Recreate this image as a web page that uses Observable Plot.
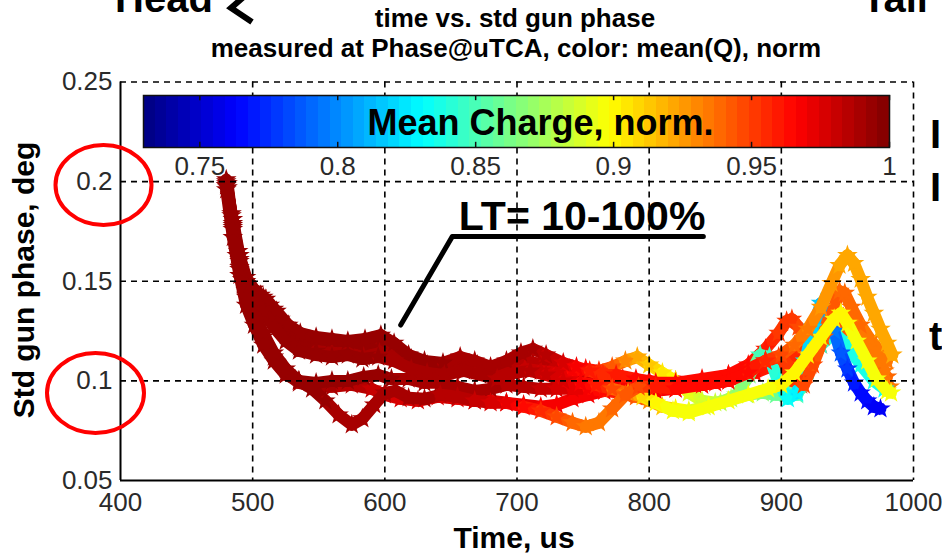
<!DOCTYPE html>
<html>
<head>
<meta charset="utf-8">
<script src="https://cdn.jsdelivr.net/npm/d3@7"></script>
<script src="https://cdn.jsdelivr.net/npm/@observablehq/plot@0.6"></script>
<style>
  body { margin: 0; background: #fff; }
  #chart { position: relative; width: 942px; height: 555px; overflow: hidden;
           font-family: "Liberation Sans", Arial, Helvetica, sans-serif; }
  #chart > svg { position: absolute; }
</style>
</head>
<body>
<div id="chart"></div>
<script>
// Axis ticks and labels
const xTicks = [400, 500, 600, 700, 800, 900, 1000];
const yTicks = [0.05, 0.1, 0.15, 0.2, 0.25];
const chargeTicks = [0.75, 0.8, 0.85, 0.9, 0.95, 1];
const chargeRange = [0.7296, 1];

// Each shot: [time (us), std gun phase (deg), normalized mean charge]
const shotH = [[480,0.200,0.995],[484,0.184,0.995],[489,0.165,0.995],[494,0.152,0.995],[500,0.146,0.995],[506,0.143,0.995],[513,0.138,0.995],[521,0.131,0.995],[530,0.124,0.995],[540,0.119,0.995],[552,0.117,0.995],[565,0.116,0.995],[578,0.117,0.995],[590,0.118,0.995],[600,0.117,0.995],[612,0.113,0.995],[625,0.108,0.994],[638,0.106,0.994],[650,0.106,0.993],[662,0.108,0.993],[675,0.105,0.992],[688,0.104,0.991],[700,0.107,0.99],[712,0.109,0.989],[725,0.107,0.987],[740,0.104,0.985],[760,0.101,0.982],[780,0.099,0.978],[800,0.099,0.975],[820,0.100,0.972],[840,0.098,0.968],[860,0.100,0.966],[880,0.104,0.962],[895,0.108,0.958],[910,0.112,0.955],[925,0.118,0.95],[940,0.124,0.945],[955,0.118,0.942],[970,0.108,0.94],[980,0.102,0.94]];
const shotF = [[480,0.199,0.994],[485,0.181,0.994],[490,0.163,0.994],[495,0.152,0.994],[501,0.146,0.994],[508,0.142,0.994],[516,0.136,0.993],[525,0.128,0.993],[535,0.122,0.993],[548,0.119,0.993],[560,0.118,0.992],[572,0.118,0.992],[585,0.119,0.992],[597,0.120,0.992],[608,0.116,0.991],[620,0.111,0.991],[632,0.108,0.99],[645,0.107,0.99],[658,0.110,0.99],[670,0.108,0.989],[682,0.105,0.988],[694,0.107,0.987],[706,0.110,0.986],[720,0.108,0.984],[740,0.106,0.98],[760,0.103,0.975],[780,0.101,0.972],[800,0.100,0.969],[820,0.098,0.967],[840,0.100,0.966],[860,0.103,0.965],[875,0.108,0.962],[888,0.116,0.958],[898,0.124,0.953],[904,0.130,0.95],[908,0.131,0.95],[913,0.127,0.949],[918,0.121,0.948],[925,0.124,0.946],[933,0.130,0.944],[940,0.133,0.942],[947,0.132,0.94],[955,0.125,0.938],[963,0.117,0.936],[971,0.110,0.935],[978,0.105,0.935]];
const shotG = [[481,0.197,0.993],[485,0.177,0.993],[490,0.157,0.993],[495,0.143,0.993],[501,0.132,0.992],[508,0.122,0.992],[516,0.112,0.992],[525,0.104,0.991],[535,0.099,0.991],[548,0.097,0.99],[560,0.097,0.988],[575,0.098,0.985],[590,0.096,0.982],[600,0.093,0.979],[612,0.091,0.978],[625,0.090,0.977],[640,0.092,0.976],[655,0.091,0.975],[668,0.090,0.974],[680,0.090,0.973],[692,0.089,0.972],[705,0.088,0.971],[718,0.087,0.97],[730,0.088,0.97],[742,0.091,0.969],[754,0.093,0.969],[766,0.095,0.968],[778,0.097,0.968],[790,0.096,0.967],[805,0.095,0.967],[820,0.096,0.966],[835,0.098,0.966],[850,0.099,0.965],[865,0.102,0.964],[880,0.106,0.962],[892,0.110,0.958],[900,0.107,0.955],[908,0.100,0.952],[915,0.098,0.95],[922,0.108,0.948],[930,0.118,0.946],[938,0.128,0.944],[945,0.127,0.942],[952,0.120,0.94],[960,0.112,0.938],[968,0.105,0.937],[976,0.100,0.936],[982,0.097,0.935]];
const shotC = [[480,0.198,0.993],[485,0.179,0.993],[490,0.161,0.993],[495,0.150,0.993],[501,0.143,0.993],[508,0.138,0.993],[516,0.131,0.992],[525,0.123,0.992],[535,0.117,0.992],[548,0.115,0.992],[560,0.114,0.991],[572,0.114,0.991],[584,0.112,0.991],[596,0.114,0.99],[608,0.111,0.99],[620,0.107,0.99],[632,0.105,0.989],[645,0.104,0.989],[658,0.106,0.988],[670,0.105,0.987],[682,0.102,0.986],[694,0.104,0.985],[706,0.106,0.983],[718,0.105,0.98],[730,0.104,0.976],[742,0.105,0.97],[752,0.106,0.962],[762,0.105,0.955],[772,0.107,0.945],[782,0.110,0.932],[791,0.112,0.922],[800,0.108,0.912],[810,0.104,0.905],[820,0.100,0.9],[830,0.094,0.893],[840,0.090,0.887],[850,0.089,0.883],[862,0.091,0.879],[874,0.093,0.875],[886,0.094,0.868],[896,0.093,0.86],[905,0.094,0.855],[912,0.093,0.85],[920,0.105,0.846],[930,0.118,0.843],[940,0.124,0.84],[950,0.118,0.838],[960,0.108,0.837],[970,0.100,0.836],[978,0.096,0.835]];
const shotA = [[480,0.196,0.994],[485,0.172,0.994],[490,0.153,0.994],[495,0.138,0.994],[501,0.128,0.994],[508,0.118,0.994],[516,0.110,0.993],[525,0.103,0.993],[535,0.100,0.993],[548,0.099,0.993],[560,0.100,0.993],[572,0.100,0.992],[584,0.102,0.992],[595,0.103,0.992],[605,0.101,0.992],[618,0.101,0.991],[630,0.099,0.991],[642,0.099,0.99],[655,0.097,0.99],[668,0.095,0.989],[680,0.096,0.988],[692,0.098,0.987],[705,0.097,0.985],[718,0.096,0.982],[730,0.096,0.978],[742,0.096,0.973],[754,0.096,0.968],[766,0.095,0.962],[778,0.094,0.955],[790,0.092,0.945],[800,0.090,0.93],[810,0.087,0.915],[820,0.086,0.9],[830,0.085,0.893],[842,0.087,0.886],[854,0.089,0.88],[866,0.093,0.872],[876,0.103,0.862],[884,0.113,0.852],[891,0.112,0.845],[898,0.099,0.838],[905,0.091,0.833],[912,0.094,0.828],[918,0.110,0.824],[924,0.127,0.82],[930,0.139,0.815],[935,0.136,0.808],[940,0.125,0.797],[945,0.114,0.785],[950,0.106,0.777],[955,0.099,0.77],[960,0.094,0.766],[965,0.090,0.764],[970,0.087,0.763],[975,0.086,0.762]];
const shotE = [[480,0.201,0.994],[484,0.183,0.994],[488,0.163,0.994],[492,0.151,0.994],[497,0.146,0.994],[503,0.144,0.994],[510,0.141,0.994],[518,0.135,0.994],[527,0.128,0.994],[536,0.124,0.994],[548,0.122,0.994],[560,0.121,0.993],[572,0.120,0.993],[585,0.121,0.993],[597,0.123,0.993],[607,0.119,0.993],[618,0.113,0.992],[630,0.110,0.992],[644,0.109,0.992],[657,0.112,0.991],[668,0.110,0.991],[680,0.107,0.99],[692,0.110,0.99],[703,0.114,0.989],[712,0.116,0.988],[722,0.113,0.985],[735,0.109,0.978],[745,0.107,0.97],[755,0.105,0.96],[765,0.103,0.955],[775,0.103,0.958],[790,0.101,0.962],[805,0.099,0.965],[820,0.099,0.966],[840,0.101,0.966],[860,0.103,0.965],[875,0.106,0.962],[888,0.110,0.958],[898,0.112,0.955],[905,0.108,0.952],[912,0.101,0.95],[917,0.098,0.948],[924,0.108,0.946],[932,0.122,0.944],[938,0.133,0.942],[944,0.145,0.94],[948,0.144,0.939],[953,0.137,0.938],[960,0.128,0.937],[967,0.121,0.936],[974,0.115,0.935],[980,0.110,0.935]];
const shotB = [[481,0.199,0.993],[485,0.178,0.993],[490,0.160,0.993],[495,0.149,0.993],[501,0.141,0.993],[508,0.135,0.993],[516,0.127,0.993],[525,0.120,0.993],[535,0.115,0.993],[548,0.113,0.993],[560,0.112,0.992],[572,0.113,0.992],[583,0.111,0.992],[595,0.112,0.992],[607,0.110,0.991],[620,0.106,0.991],[632,0.104,0.99],[645,0.103,0.99],[660,0.105,0.989],[672,0.103,0.988],[685,0.101,0.987],[698,0.104,0.986],[710,0.105,0.984],[722,0.103,0.98],[735,0.100,0.975],[748,0.099,0.968],[760,0.098,0.96],[772,0.096,0.948],[784,0.094,0.93],[795,0.092,0.91],[805,0.089,0.9],[818,0.085,0.896],[830,0.084,0.895],[845,0.087,0.895],[860,0.090,0.896],[875,0.093,0.897],[890,0.096,0.898],[900,0.098,0.899],[910,0.104,0.9],[920,0.113,0.9],[930,0.122,0.9],[940,0.131,0.9],[945,0.134,0.9],[950,0.129,0.899],[957,0.120,0.898],[965,0.110,0.898],[972,0.101,0.897],[980,0.095,0.897],[983,0.094,0.897]];
const shotD = [[480,0.198,0.993],[485,0.176,0.993],[490,0.156,0.993],[495,0.142,0.993],[501,0.133,0.993],[508,0.124,0.993],[516,0.114,0.993],[525,0.106,0.992],[535,0.100,0.992],[545,0.096,0.992],[555,0.090,0.992],[565,0.083,0.991],[575,0.078,0.991],[583,0.081,0.991],[592,0.088,0.99],[600,0.094,0.99],[608,0.095,0.99],[618,0.0915,0.989],[630,0.091,0.988],[642,0.093,0.987],[655,0.092,0.985],[668,0.090,0.982],[680,0.089,0.978],[692,0.089,0.972],[705,0.087,0.965],[718,0.085,0.957],[730,0.082,0.948],[742,0.079,0.94],[752,0.077,0.935],[762,0.079,0.934],[772,0.086,0.937],[782,0.093,0.942],[792,0.097,0.947],[805,0.097,0.958],[820,0.096,0.963],[840,0.098,0.965],[860,0.100,0.965],[875,0.104,0.962],[888,0.110,0.955],[900,0.113,0.946],[910,0.118,0.94],[920,0.126,0.933],[930,0.137,0.928],[938,0.149,0.925],[944,0.158,0.923],[950,0.163,0.922],[955,0.159,0.922],[960,0.151,0.921],[965,0.142,0.921],[970,0.134,0.92],[975,0.126,0.92],[980,0.119,0.92],[984,0.113,0.92]];

// Plotting order: later shots are drawn on top
const shots = [shotH, shotF, shotG, shotC, shotA, shotE, shotB, shotD];

// Annotation
const note = {text: "LT= 10-100%", t: 656, v: 0.1755};
const leader = [{t: 612, v: 0.128}, {t: 651, v: 0.1724}, {t: 841, v: 0.1724}];

const FONT = '"Liberation Sans", Arial, Helvetica, sans-serif';

// MATLAB-style jet colormap with 64 levels
const jet = (t) => {
  const k = Math.min(63, Math.max(0, Math.floor(t * 64)));
  const u = (k + 0.5) / 64;
  const c = (x) => Math.round(255 * Math.max(0, Math.min(1, x)));
  return `rgb(${c(1.5 - Math.abs(4 * u - 3))},${c(1.5 - Math.abs(4 * u - 2))},${c(1.5 - Math.abs(4 * u - 1))})`;
};
const colorOptions = {type: "linear", domain: chargeRange, interpolate: jet, clamp: true};

// Split every shot into short segments so the colour can follow the charge
const segmentsOf = (shot) => shot.slice(1).map((p, j) => ({
  t0: shot[j][0], v0: shot[j][1], t1: p[0], v1: p[1], q: (shot[j][2] + p[2]) / 2
}));
const pointsOf = (shot) => shot.map(([t, v, q]) => ({t, v, q}));

const shotMarks = shots.flatMap((shot) => [
  Plot.link(segmentsOf(shot), {x1: "t0", y1: "v0", x2: "t1", y2: "v1", stroke: "q",
    strokeWidth: 12, strokeLinecap: "round", strokeLinejoin: "round"}),
  Plot.dot(pointsOf(shot), {x: "t", y: "v", fill: "q", symbol: "star", r: 6.5})
]);

const fmt = (d) => String(+d.toFixed(2));

const main = Plot.plot({
  width: 942, height: 555,
  marginLeft: 120, marginRight: 29, marginTop: 81.5, marginBottom: 75,
  x: {domain: [400, 1000], ticks: xTicks, tickSize: 0, tickPadding: 12, tickFormat: fmt, label: null},
  y: {domain: [0.05, 0.25], ticks: yTicks, tickSize: 0, tickPadding: 8, tickFormat: fmt, label: null},
  color: colorOptions,
  style: {fontFamily: FONT, fontSize: "26px", color: "#2a2a2a", background: "transparent", overflow: "visible"},
  marks: [
    ...shotMarks,
    Plot.line(leader, {x: "t", y: "v", stroke: "#000", strokeWidth: 5}),
    Plot.text([note], {x: "t", y: "v", text: "text", textAnchor: "start", lineAnchor: "bottom",
      fontSize: 41, fontWeight: "bold", fill: "#000"}),
    Plot.ruleX(xTicks.slice(1), {stroke: "#000", strokeWidth: 1.6, strokeDasharray: "6,5"}),
    Plot.ruleY(yTicks.slice(1), {stroke: "#000", strokeWidth: 1.6, strokeDasharray: "6,5"}),
    Plot.ruleX([400], {stroke: "#000", strokeWidth: 2}),
    Plot.ruleY([0.05], {stroke: "#000", strokeWidth: 2})
  ]
});
main.style.left = "0px";
main.style.top = "0px";

// Colour bar drawn inside the axes
const nBands = 64;
const step = (chargeRange[1] - chargeRange[0]) / nBands;
const bands = d3.range(nBands).map((i) => ({a: chargeRange[0] + i * step, b: chargeRange[0] + (i + 1) * step}));
const barLeft = 30;
const colorbar = Plot.plot({
  width: 746 + 2 * barLeft, height: 52 + 45,
  marginLeft: barLeft, marginRight: barLeft, marginTop: 0, marginBottom: 45,
  x: {domain: chargeRange, axis: null},
  y: {domain: [0, 1], axis: null},
  color: colorOptions,
  style: {fontFamily: FONT, background: "transparent", overflow: "visible"},
  marks: [
    Plot.rect(bands, {x1: "a", x2: "b", y1: 0, y2: 1, fill: (d) => (d.a + d.b) / 2, shapeRendering: "crispEdges"}),
    Plot.ruleX(chargeTicks, {y1: 0, y2: 0.1, stroke: "#111", strokeWidth: 1.5}),
    Plot.ruleX(chargeTicks, {y1: 0.9, y2: 1, stroke: "#111", strokeWidth: 1.5}),
    Plot.frame({stroke: "#111", strokeWidth: 1.5}),
    Plot.text(chargeTicks, {x: (d) => d, y: 0, text: (d) => fmt(d), lineAnchor: "top", dy: 9,
      fontSize: 26, fill: "#2a2a2a"}),
    Plot.text(["Mean Charge, norm."], {frameAnchor: "middle", dx: 24, dy: 2, fontSize: 36,
      fontWeight: "bold", fill: "#000"})
  ]
});
colorbar.style.left = (143 - barLeft) + "px";
colorbar.style.top = "95px";

// Titles, axis labels and slide call-outs
const ns = "http://www.w3.org/2000/svg";
const overlay = document.createElementNS(ns, "svg");
overlay.setAttribute("width", 942);
overlay.setAttribute("height", 555);
overlay.style.left = "0px";
overlay.style.top = "0px";
overlay.innerHTML = `
  <g font-family='${FONT}' fill="#000">
    <text x="515" y="27" text-anchor="middle" font-size="26" font-weight="bold">time vs. std gun phase</text>
    <text x="516" y="57" text-anchor="middle" font-size="26" font-weight="bold">measured at Phase@uTCA, color: mean(Q), norm</text>
    <text x="514" y="548" text-anchor="middle" font-size="30" font-weight="bold">Time, us</text>
    <text transform="translate(34,280) rotate(-90)" text-anchor="middle" font-size="30" font-weight="bold">Std gun phase, deg</text>
    <text x="115" y="12" font-size="40" font-weight="bold">Head</text>
    <text x="862" y="12" font-size="40" font-weight="bold">Tail</text>
    <text x="930" y="148" font-size="40" font-weight="bold">I</text>
    <text x="930" y="201" font-size="40" font-weight="bold">I</text>
    <text x="929" y="350" font-size="40" font-weight="bold">t</text>
  </g>
  <path d="M247,-6 L231,8 L252,22" fill="none" stroke="#000" stroke-width="6"/>
  <ellipse cx="103.5" cy="185" rx="48" ry="40" fill="none" stroke="#ff0000" stroke-width="4"/>
  <ellipse cx="95.5" cy="393" rx="48.5" ry="40" fill="none" stroke="#ff0000" stroke-width="4"/>
`;

const chart = document.getElementById("chart");
chart.append(main, colorbar, overlay);
</script>
</body>
</html>
